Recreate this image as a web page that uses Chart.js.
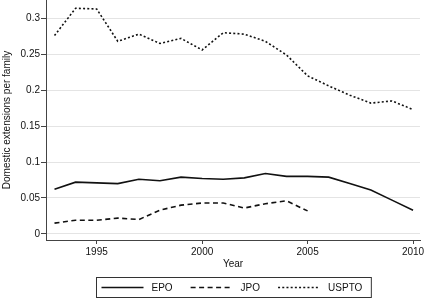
<!DOCTYPE html>
<html>
<head>
<meta charset="utf-8">
<script src="https://cdn.jsdelivr.net/npm/chart.js@4/dist/chart.umd.min.js"></script>
<style>
html,body{margin:0;padding:0;background:#fff;}
canvas{display:block;}
</style>
</head>
<body>
<canvas id="c" width="427" height="298"></canvas>
<script>
const years = [1993,1994,1995,1996,1997,1998,1999,2000,2001,2002,2003,2004,2005,2006,2007,2008,2009,2010];
const epo   = [0.062,0.072,0.071,0.070,0.076,0.074,0.079,0.077,0.076,0.078,0.084,0.080,0.080,0.079,0.070,0.061,0.047,0.033];
const jpo   = [0.015,0.019,0.019,0.022,0.020,0.033,0.040,0.043,0.043,0.036,0.042,0.046,0.032,null,null,null,null,null];
const uspto = [0.276,0.314,0.313,0.268,0.278,0.265,0.272,0.256,0.280,0.278,0.268,0.249,0.220,0.206,0.193,0.182,0.185,0.173];
const seriesLabels = ['EPO','JPO','USPTO'];
const xTickValues = [1995,2000,2005,2010];
const yTickValues = [0,0.05,0.1,0.15,0.2,0.25,0.3];
const xTitle = 'Year';
const yTitle = 'Domestic extensions per family';

const FONT = {family:'"Liberation Sans", Arial, Helvetica, sans-serif', size:10};
const toXY = arr => years.map((y,i)=>({x:y, y:arr[i]}));

const boxedLegend = {
  id:'boxedLegend',
  afterDraw(chart){
    const ctx = chart.ctx;
    const ca = chart.chartArea;
    ctx.save();
    ctx.font = '10px "Liberation Sans", Arial, Helvetica, sans-serif';
    const lineLen = 42, gap = 8, spacing = 18, padL = 5, padR = 9;
    const ds = chart.data.datasets;
    const widths = ds.map(d => lineLen + gap + ctx.measureText(d.label).width);
    const inner = widths.reduce((a,b)=>a+b,0) + spacing*(ds.length-1);
    const total = inner + padL + padR;
    const left = Math.round((ca.left+ca.right)/2 - total/2) + 0.5;
    const top = 277.5, h = 20;
    ctx.strokeStyle = '#333';
    ctx.lineWidth = 1;
    ctx.strokeRect(left, top, total, h);
    let x = left + padL;
    const cy = top + h/2;
    ds.forEach((d,i)=>{
      ctx.beginPath();
      ctx.setLineDash(d.borderDash || []);
      ctx.lineWidth = d.borderWidth;
      ctx.strokeStyle = d.borderColor;
      ctx.moveTo(x, cy); ctx.lineTo(x+lineLen, cy);
      ctx.stroke();
      ctx.setLineDash([]);
      ctx.fillStyle = '#111';
      ctx.textBaseline = 'middle';
      ctx.textAlign = 'left';
      ctx.fillText(d.label, x+lineLen+gap, cy+0.5);
      x += widths[i] + spacing;
    });
    ctx.restore();
  }
};

new Chart(document.getElementById('c'), {
  type:'line',
  data:{
    datasets:[
      {label:seriesLabels[0], data:toXY(epo), borderColor:'#111', borderWidth:1.6, borderDash:[], pointRadius:0, tension:0, fill:false},
      {label:seriesLabels[1], data:toXY(jpo), borderColor:'#111', borderWidth:1.6, borderDash:[5,3.5], pointRadius:0, tension:0, fill:false, spanGaps:false},
      {label:seriesLabels[2], data:toXY(uspto), borderColor:'#111', borderWidth:1.6, borderDash:[2,2.2], pointRadius:0, tension:0, fill:false}
    ]
  },
  options:{
    responsive:false,
    animation:false,
    layout:{padding:{left:0,right:7,top:0,bottom:24}},
    plugins:{legend:{display:false}, tooltip:{enabled:false}},
    scales:{
      x:{
        type:'linear', min:1992.597, max:2010.33,
        afterBuildTicks: s => { s.ticks = xTickValues.map(v=>({value:v})); },
        afterFit: s => { s.height = 34; },
        grid:{drawOnChartArea:false, drawTicks:true, tickLength:4, tickColor:'#444', lineWidth:1},
        border:{display:true, color:'#444', width:1},
        ticks:{color:'#111', font:FONT, padding:2, maxRotation:0, autoSkip:false, callback:v=>String(v)},
        title:{display:true, text:xTitle, color:'#111', font:FONT, padding:{top:0,bottom:4}}
      },
      y:{
        type:'linear', min:-0.0085, max:0.3255,
        afterBuildTicks: s => { s.ticks = yTickValues.map(v=>({value:v})); },
        afterFit: s => { s.width = 46; s.paddingTop = 0; s.paddingBottom = 0; },
        grid:{color:'#e4e4e4', lineWidth:1, drawTicks:true, tickLength:5, tickColor:'#444'},
        border:{display:true, color:'#444', width:1},
        ticks:{color:'#111', font:FONT, padding:1, autoSkip:false, callback:v=>String(v)},
        title:{display:true, text:yTitle, color:'#111', font:FONT, padding:{top:1.5,bottom:0}}
      }
    }
  },
  plugins:[boxedLegend]
});
</script>
</body>
</html>
